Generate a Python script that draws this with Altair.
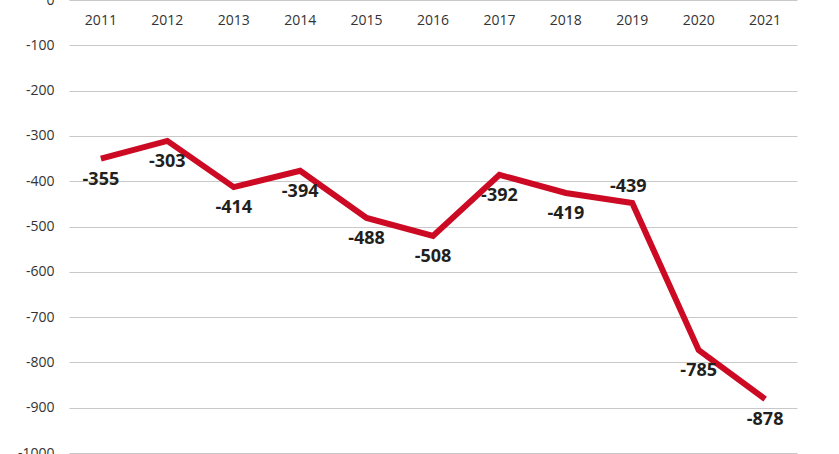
import altair as alt
import pandas as pd

years = ["2011", "2012", "2013", "2014", "2015", "2016", "2017", "2018", "2019", "2020", "2021"]
# line positions as drawn in the picture
plotted = [-350, -311, -413, -377, -481, -521, -386, -426, -448, -773, -881]
# printed value labels
labels = [-355, -303, -414, -394, -488, -508, -392, -419, -439, -785, -878]

df = pd.DataFrame({"year": years, "v": plotted, "lab": labels})

xs = alt.X("year:O", scale=alt.Scale(type="point", padding=0.48), axis=None)
ys = alt.Y("v:Q", scale=alt.Scale(domain=[-1000, 0], nice=False),
           axis=alt.Axis(values=list(range(-1000, 1, 100)), title=None, domain=False, ticks=False,
                         grid=True, gridColor="#c8c8c8", gridWidth=1.2,
                         labelFont="Open Sans", labelFontSize=14, labelColor="#333333",
                         labelPadding=15,
                         labelExpr="datum.value < 0 ? '-' + format(-datum.value, 'd') : '0'"))

base = alt.Chart(df).transform_calculate(
    txt="datum.lab < 0 ? '-' + format(-datum.lab, 'd') : format(datum.lab, 'd')"
)

line = base.mark_line(color="#cc0a24", strokeWidth=6, strokeJoin="miter").encode(x=xs, y=ys)

years_text = base.mark_text(font="Open Sans", fontSize=14, color="#333333", baseline="middle").encode(
    x=xs, y=alt.value(21), text="year:N")

lab_below = base.transform_filter(alt.datum.year != "2019").mark_text(
    font="Open Sans", fontSize=18, fontWeight="bold", color="#231f20", dy=21, baseline="middle"
).encode(x=xs, y=alt.Y("v:Q"), text="txt:N")

lab_above = base.transform_filter(alt.datum.year == "2019").mark_text(
    font="Open Sans", fontSize=18, fontWeight="bold", color="#231f20", dy=-16, dx=-4, baseline="middle"
).encode(x=xs, y=alt.Y("v:Q"), text="txt:N")

chart = alt.layer(line, years_text, lab_below, lab_above).properties(
    width=728, height=453,
    padding={"left": 69, "top": 0, "right": 42, "bottom": 1},
    autosize=alt.AutoSizeParams(type="none"),
    background="white",
).configure_view(stroke=None)

chart.save("out.html", embed_options={"renderer": "svg", "actions": False})
